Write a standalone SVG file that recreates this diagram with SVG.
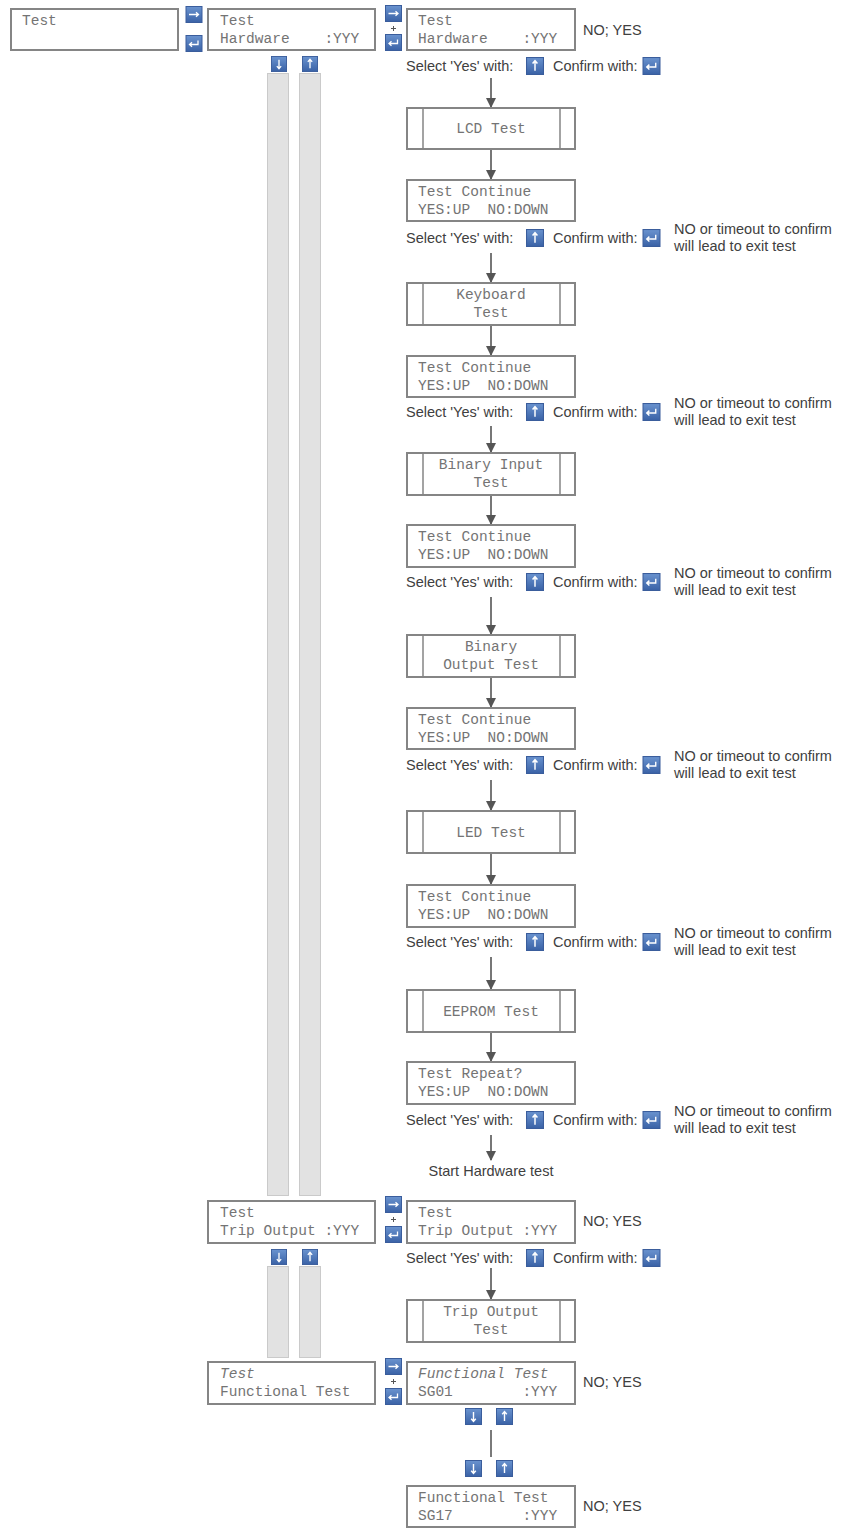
<svg xmlns="http://www.w3.org/2000/svg" xmlns:xlink="http://www.w3.org/1999/xlink" width="849" height="1528" viewBox="0 0 849 1528">
  <style>
    .box { fill: #ffffff; stroke: #858585; stroke-width: 2; }
    .bar { fill: #e2e2e2; stroke: #cacaca; stroke-width: 1; }
    .sep { stroke: #858585; stroke-width: 1.5; }
    .lcd { font-family: "Liberation Mono", "DejaVu Sans Mono", monospace; font-size: 14.5px; fill: #747474; }
    .it { font-style: italic; }
    .mid { text-anchor: middle; }
    .lbl { font-family: "Liberation Sans", Arial, sans-serif; font-size: 14.5px; fill: #404040; }
    .flow { stroke: #555555; stroke-width: 1.6; fill: none; marker-end: url(#ah); }
    .link { stroke: #7a7a7a; stroke-width: 2; fill: none; }
    .plus { stroke: #555555; stroke-width: 1; }
  </style>
  <defs>
    <marker id="ah" viewBox="0 0 10 10" refX="9" refY="5" markerWidth="6.5" markerHeight="6.5" orient="auto" markerUnits="strokeWidth">
      <path d="M0,0 L10,5 L0,10 z" fill="#555555"/>
    </marker>
    <linearGradient id="keyfill" x1="0" y1="0" x2="0" y2="1">
      <stop offset="0" stop-color="#6a93cf"/>
      <stop offset="1" stop-color="#3a62a6"/>
    </linearGradient>
    <!-- keypad buttons -->
    <symbol id="k-up" viewBox="0 0 17 17">
      <rect x="0.5" y="0.5" width="16" height="16" fill="url(#keyfill)" stroke="#3a5d9c"/>
      <path d="M8.5,3.5 L8.5,13 M6.2,6.2 L8.5,3.5 L10.8,6.2" stroke="#ffffff" stroke-width="1.4" fill="none"/>
    </symbol>
    <symbol id="k-down" viewBox="0 0 17 17">
      <rect x="0.5" y="0.5" width="16" height="16" fill="url(#keyfill)" stroke="#3a5d9c"/>
      <path d="M8.5,4 L8.5,13.5 M6.2,10.8 L8.5,13.5 L10.8,10.8" stroke="#ffffff" stroke-width="1.4" fill="none"/>
    </symbol>
    <symbol id="k-enter" viewBox="0 0 17 17">
      <rect x="0.5" y="0.5" width="16" height="16" fill="url(#keyfill)" stroke="#3a5d9c"/>
      <path d="M12.5,5.5 L12.5,9.5 L4,9.5 M6.5,7.2 L4,9.5 L6.5,11.8" stroke="#ffffff" stroke-width="1.3" fill="none"/>
    </symbol>
    <symbol id="k-right" viewBox="0 0 17 17">
      <rect x="0.5" y="0.5" width="16" height="16" fill="url(#keyfill)" stroke="#3a5d9c"/>
      <path d="M3.5,8.5 L13,8.5 M10.5,6.3 L13,8.5 L10.5,10.7" stroke="#ffffff" stroke-width="1.3" fill="none"/>
    </symbol>
  </defs>

  <rect width="849" height="1528" fill="#ffffff"/>

  <!-- menu scroll bars on the left -->
  <g id="scroll-bars">
    <rect class="bar" x="267.5" y="73.5" width="21" height="1122"/>
    <rect class="bar" x="299.5" y="73.5" width="21" height="1122"/>
    <rect class="bar" x="267.5" y="1266.5" width="21" height="91"/>
    <rect class="bar" x="299.5" y="1266.5" width="21" height="91"/>
  </g>

  <!-- connectors -->
  <g id="connectors">
    <line class="flow" x1="491" y1="78" x2="491" y2="107"/>
    <line class="flow" x1="491" y1="150" x2="491" y2="179"/>
    <line class="flow" x1="491" y1="253" x2="491" y2="282"/>
    <line class="flow" x1="491" y1="326" x2="491" y2="355"/>
    <line class="flow" x1="491" y1="426" x2="491" y2="452"/>
    <line class="flow" x1="491" y1="496" x2="491" y2="524"/>
    <line class="flow" x1="491" y1="597" x2="491" y2="634"/>
    <line class="flow" x1="491" y1="678" x2="491" y2="707"/>
    <line class="flow" x1="491" y1="780" x2="491" y2="810"/>
    <line class="flow" x1="491" y1="854" x2="491" y2="884"/>
    <line class="flow" x1="491" y1="957" x2="491" y2="989"/>
    <line class="flow" x1="491" y1="1033" x2="491" y2="1061"/>
    <line class="flow" x1="491" y1="1135" x2="491" y2="1160"/>
    <line class="flow" x1="491" y1="1268" x2="491" y2="1299"/>
    <line class="link" x1="491" y1="1430" x2="491" y2="1457"/>
  </g>

  <!-- main menu: Test -->
  <g id="menu-test">
    <rect class="box" x="11" y="9" width="167" height="41"/>
    <text class="lcd" x="22" y="25">Test</text>
  </g>
  <g id="keys-test">
    <use xlink:href="#k-right" x="185" y="6" width="18" height="17"/>
    <use xlink:href="#k-enter" x="185" y="35" width="18" height="17"/>
  </g>

  <!-- Test / Hardware -->
  <g id="menu-hardware">
    <rect class="box" x="208" y="9" width="167" height="41"/>
    <text class="lcd" x="220" y="25">Test</text>
    <text class="lcd" x="220" y="43" xml:space="preserve">Hardware    :YYY</text>
  </g>
  <g id="keys-hardware">
    <use xlink:href="#k-right" x="385" y="5" width="17" height="17"/>
    <line class="plus" x1="393.5" y1="26" x2="393.5" y2="31"/>
    <line class="plus" x1="391" y1="28.5" x2="396" y2="28.5"/>
    <use xlink:href="#k-enter" x="385" y="34" width="17" height="17"/>
    <use xlink:href="#k-down" x="271" y="56" width="16" height="16"/>
    <use xlink:href="#k-up" x="302" y="56" width="16" height="16"/>
  </g>
  <g id="edit-hardware">
    <rect class="box" x="407" y="9" width="168" height="41"/>
    <text class="lcd" x="418" y="25">Test</text>
    <text class="lcd" x="418" y="43" xml:space="preserve">Hardware    :YYY</text>
    <text class="lbl" x="583" y="35">NO; YES</text>
  </g>
  <g id="prompt-1">
    <text class="lbl" x="406" y="71">Select 'Yes' with:</text>
    <use xlink:href="#k-up" x="526" y="57" width="18" height="18"/>
    <text class="lbl" x="553" y="71">Confirm with:</text>
    <use xlink:href="#k-enter" x="642" y="57" width="19" height="18"/>
  </g>

  <!-- LCD test -->
  <g id="lcd-test">
    <rect class="box" x="407" y="108" width="168" height="41"/>
    <line class="sep" x1="423" y1="108" x2="423" y2="149"/>
    <line class="sep" x1="560" y1="108" x2="560" y2="149"/>
    <text class="lcd mid" x="491" y="133">LCD Test</text>
  </g>
  <g id="continue-1">
    <rect class="box" x="407" y="180" width="168" height="41"/>
    <text class="lcd" x="418" y="196">Test Continue</text>
    <text class="lcd" x="418" y="214" xml:space="preserve">YES:UP  NO:DOWN</text>
  </g>
  <g id="prompt-2">
    <text class="lbl" x="406" y="243">Select 'Yes' with:</text>
    <use xlink:href="#k-up" x="526" y="229" width="18" height="18"/>
    <text class="lbl" x="553" y="243">Confirm with:</text>
    <use xlink:href="#k-enter" x="642" y="229" width="19" height="18"/>
    <text class="lbl" x="674" y="234">NO or timeout to confirm</text>
    <text class="lbl" x="674" y="251">will lead to exit test</text>
  </g>

  <!-- Keyboard test -->
  <g id="keyboard-test">
    <rect class="box" x="407" y="283" width="168" height="42"/>
    <line class="sep" x1="423" y1="283" x2="423" y2="325"/>
    <line class="sep" x1="560" y1="283" x2="560" y2="325"/>
    <text class="lcd mid" x="491" y="299">Keyboard</text>
    <text class="lcd mid" x="491" y="317">Test</text>
  </g>
  <g id="continue-2">
    <rect class="box" x="407" y="356" width="168" height="41"/>
    <text class="lcd" x="418" y="372">Test Continue</text>
    <text class="lcd" x="418" y="390" xml:space="preserve">YES:UP  NO:DOWN</text>
  </g>
  <g id="prompt-3">
    <text class="lbl" x="406" y="417">Select 'Yes' with:</text>
    <use xlink:href="#k-up" x="526" y="403" width="18" height="18"/>
    <text class="lbl" x="553" y="417">Confirm with:</text>
    <use xlink:href="#k-enter" x="642" y="403" width="19" height="18"/>
    <text class="lbl" x="674" y="408">NO or timeout to confirm</text>
    <text class="lbl" x="674" y="425">will lead to exit test</text>
  </g>

  <!-- Binary input test -->
  <g id="binary-input-test">
    <rect class="box" x="407" y="453" width="168" height="42"/>
    <line class="sep" x1="423" y1="453" x2="423" y2="495"/>
    <line class="sep" x1="560" y1="453" x2="560" y2="495"/>
    <text class="lcd mid" x="491" y="469">Binary Input</text>
    <text class="lcd mid" x="491" y="487">Test</text>
  </g>
  <g id="continue-3">
    <rect class="box" x="407" y="525" width="168" height="42"/>
    <text class="lcd" x="418" y="541">Test Continue</text>
    <text class="lcd" x="418" y="559" xml:space="preserve">YES:UP  NO:DOWN</text>
  </g>
  <g id="prompt-4">
    <text class="lbl" x="406" y="587">Select 'Yes' with:</text>
    <use xlink:href="#k-up" x="526" y="573" width="18" height="18"/>
    <text class="lbl" x="553" y="587">Confirm with:</text>
    <use xlink:href="#k-enter" x="642" y="573" width="19" height="18"/>
    <text class="lbl" x="674" y="578">NO or timeout to confirm</text>
    <text class="lbl" x="674" y="595">will lead to exit test</text>
  </g>

  <!-- Binary output test -->
  <g id="binary-output-test">
    <rect class="box" x="407" y="635" width="168" height="42"/>
    <line class="sep" x1="423" y1="635" x2="423" y2="677"/>
    <line class="sep" x1="560" y1="635" x2="560" y2="677"/>
    <text class="lcd mid" x="491" y="651">Binary</text>
    <text class="lcd mid" x="491" y="669">Output Test</text>
  </g>
  <g id="continue-4">
    <rect class="box" x="407" y="708" width="168" height="41"/>
    <text class="lcd" x="418" y="724">Test Continue</text>
    <text class="lcd" x="418" y="742" xml:space="preserve">YES:UP  NO:DOWN</text>
  </g>
  <g id="prompt-5">
    <text class="lbl" x="406" y="770">Select 'Yes' with:</text>
    <use xlink:href="#k-up" x="526" y="756" width="18" height="18"/>
    <text class="lbl" x="553" y="770">Confirm with:</text>
    <use xlink:href="#k-enter" x="642" y="756" width="19" height="18"/>
    <text class="lbl" x="674" y="761">NO or timeout to confirm</text>
    <text class="lbl" x="674" y="778">will lead to exit test</text>
  </g>

  <!-- LED test -->
  <g id="led-test">
    <rect class="box" x="407" y="811" width="168" height="42"/>
    <line class="sep" x1="423" y1="811" x2="423" y2="853"/>
    <line class="sep" x1="560" y1="811" x2="560" y2="853"/>
    <text class="lcd mid" x="491" y="837">LED Test</text>
  </g>
  <g id="continue-5">
    <rect class="box" x="407" y="885" width="168" height="42"/>
    <text class="lcd" x="418" y="901">Test Continue</text>
    <text class="lcd" x="418" y="919" xml:space="preserve">YES:UP  NO:DOWN</text>
  </g>
  <g id="prompt-6">
    <text class="lbl" x="406" y="947">Select 'Yes' with:</text>
    <use xlink:href="#k-up" x="526" y="933" width="18" height="18"/>
    <text class="lbl" x="553" y="947">Confirm with:</text>
    <use xlink:href="#k-enter" x="642" y="933" width="19" height="18"/>
    <text class="lbl" x="674" y="938">NO or timeout to confirm</text>
    <text class="lbl" x="674" y="955">will lead to exit test</text>
  </g>

  <!-- EEPROM test -->
  <g id="eeprom-test">
    <rect class="box" x="407" y="990" width="168" height="42"/>
    <line class="sep" x1="423" y1="990" x2="423" y2="1032"/>
    <line class="sep" x1="560" y1="990" x2="560" y2="1032"/>
    <text class="lcd mid" x="491" y="1016">EEPROM Test</text>
  </g>
  <g id="repeat">
    <rect class="box" x="407" y="1062" width="168" height="42"/>
    <text class="lcd" x="418" y="1078">Test Repeat?</text>
    <text class="lcd" x="418" y="1096" xml:space="preserve">YES:UP  NO:DOWN</text>
  </g>
  <g id="prompt-7">
    <text class="lbl" x="406" y="1125">Select 'Yes' with:</text>
    <use xlink:href="#k-up" x="526" y="1111" width="18" height="18"/>
    <text class="lbl" x="553" y="1125">Confirm with:</text>
    <use xlink:href="#k-enter" x="642" y="1111" width="19" height="18"/>
    <text class="lbl" x="674" y="1116">NO or timeout to confirm</text>
    <text class="lbl" x="674" y="1133">will lead to exit test</text>
  </g>
  <g id="start-hardware">
    <text class="lbl mid" x="491" y="1176">Start Hardware test</text>
  </g>

  <!-- Test / Trip Output -->
  <g id="menu-trip">
    <rect class="box" x="208" y="1201" width="167" height="42"/>
    <text class="lcd" x="220" y="1217">Test</text>
    <text class="lcd" x="220" y="1235">Trip Output :YYY</text>
  </g>
  <g id="keys-trip">
    <use xlink:href="#k-right" x="385" y="1196" width="17" height="17"/>
    <line class="plus" x1="393.5" y1="1217" x2="393.5" y2="1222"/>
    <line class="plus" x1="391" y1="1219.5" x2="396" y2="1219.5"/>
    <use xlink:href="#k-enter" x="385" y="1226" width="17" height="17"/>
    <use xlink:href="#k-down" x="271" y="1249" width="16" height="16"/>
    <use xlink:href="#k-up" x="302" y="1249" width="16" height="16"/>
  </g>
  <g id="edit-trip">
    <rect class="box" x="407" y="1201" width="168" height="42"/>
    <text class="lcd" x="418" y="1217">Test</text>
    <text class="lcd" x="418" y="1235">Trip Output :YYY</text>
    <text class="lbl" x="583" y="1226">NO; YES</text>
  </g>
  <g id="prompt-8">
    <text class="lbl" x="406" y="1263">Select 'Yes' with:</text>
    <use xlink:href="#k-up" x="526" y="1249" width="18" height="18"/>
    <text class="lbl" x="553" y="1263">Confirm with:</text>
    <use xlink:href="#k-enter" x="642" y="1249" width="19" height="18"/>
  </g>
  <g id="trip-output-test">
    <rect class="box" x="407" y="1300" width="168" height="42"/>
    <line class="sep" x1="423" y1="1300" x2="423" y2="1342"/>
    <line class="sep" x1="560" y1="1300" x2="560" y2="1342"/>
    <text class="lcd mid" x="491" y="1316">Trip Output</text>
    <text class="lcd mid" x="491" y="1334">Test</text>
  </g>

  <!-- Test / Functional Test -->
  <g id="menu-functional">
    <rect class="box" x="208" y="1362" width="167" height="42"/>
    <text class="lcd it" x="220" y="1378">Test</text>
    <text class="lcd" x="220" y="1396">Functional Test</text>
  </g>
  <g id="keys-functional">
    <use xlink:href="#k-right" x="385" y="1358" width="17" height="17"/>
    <line class="plus" x1="393.5" y1="1379" x2="393.5" y2="1384"/>
    <line class="plus" x1="391" y1="1381.5" x2="396" y2="1381.5"/>
    <use xlink:href="#k-enter" x="385" y="1388" width="17" height="17"/>
  </g>
  <g id="edit-sg01">
    <rect class="box" x="407" y="1362" width="168" height="42"/>
    <text class="lcd it" x="418" y="1378">Functional Test</text>
    <text class="lcd" x="418" y="1396" xml:space="preserve">SG01        :YYY</text>
    <text class="lbl" x="583" y="1387">NO; YES</text>
  </g>
  <g id="keys-sg">
    <use xlink:href="#k-down" x="465" y="1408" width="17" height="17"/>
    <use xlink:href="#k-up" x="496" y="1408" width="17" height="17"/>
    <use xlink:href="#k-down" x="465" y="1460" width="17" height="17"/>
    <use xlink:href="#k-up" x="496" y="1460" width="17" height="17"/>
  </g>
  <g id="edit-sg17">
    <rect class="box" x="407" y="1486" width="168" height="41"/>
    <text class="lcd" x="418" y="1502">Functional Test</text>
    <text class="lcd" x="418" y="1520" xml:space="preserve">SG17        :YYY</text>
    <text class="lbl" x="583" y="1511">NO; YES</text>
  </g>
</svg>
